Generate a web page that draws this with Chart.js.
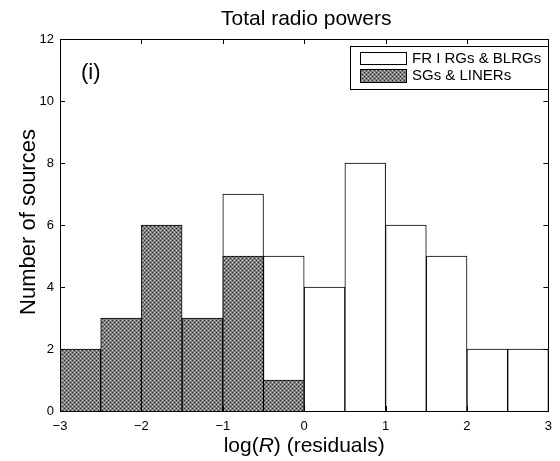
<!DOCTYPE html>
<html>
<head>
<meta charset="utf-8">
<script src="https://cdn.jsdelivr.net/npm/chart.js@4/dist/chart.umd.min.js"></script>
<style>
  html, body { margin: 0; padding: 0; background: #fff; }
  #wrap { width: 560px; height: 461px; }
</style>
</head>
<body>
<div id="wrap"><canvas id="histo" width="560" height="461"></canvas></div>
<script>
// bin centres, width 0.5 from -3 to 3
var binCentres = [-2.75, -2.25, -1.75, -1.25, -0.75, -0.25, 0.25, 0.75, 1.25, 1.75, 2.25, 2.75];
var frCounts = [null, null, null, null, 7, 5, 4, 8, 6, 5, 2, 2];
var sgCounts = [2, 3, 6, 3, 5, 1, null, null, null, null, null, null];
var xTicks = [-3, -2, -1, 0, 1, 2, 3];
var yTicks = [0, 2, 4, 6, 8, 10, 12];

var fontName = "'Liberation Sans', Arial, sans-serif";

function hatch() {
  var c = document.createElement("canvas");
  c.width = 4;
  c.height = 4;
  var g = c.getContext("2d");
  g.fillStyle = "#808080";
  g.fillRect(0, 0, 4, 4);
  g.fillStyle = "#2a2a2a";
  g.fillRect(0, 0, 1, 1);
  g.fillRect(2, 2, 1, 1);
  g.fillStyle = "#cccccc";
  g.fillRect(2, 0, 1, 1);
  g.fillRect(0, 2, 1, 1);
  return document.getElementById("histo").getContext("2d").createPattern(c, "repeat");
}

function pts(vals) {
  var out = [];
  for (var i = 0; i < binCentres.length; i++) {
    out.push({ x: binCentres[i], y: vals[i] });
  }
  return out;
}

var darkFill = hatch();

// frame, inward ticks, title, axis labels, "(i)" and legend box
var decor = {
  id: "decor",
  afterDraw: function (chart) {
    var ctx = chart.ctx;
    var a = chart.chartArea;
    var xs = chart.scales.x, ys = chart.scales.y;
    ctx.save();
    ctx.strokeStyle = "#000";
    ctx.lineWidth = 1;
    ctx.strokeRect(Math.round(a.left) + 0.5, Math.round(a.top) + 0.5,
      Math.round(a.right - a.left), Math.round(a.bottom - a.top));
    ctx.beginPath();
    xTicks.forEach(function (v) {
      var px = Math.round(xs.getPixelForValue(v)) + 0.5;
      ctx.moveTo(px, a.bottom); ctx.lineTo(px, a.bottom - 5);
      ctx.moveTo(px, a.top); ctx.lineTo(px, a.top + 5);
    });
    yTicks.forEach(function (v) {
      var py = Math.round(ys.getPixelForValue(v)) + 0.5;
      ctx.moveTo(a.left, py); ctx.lineTo(a.left + 5, py);
      ctx.moveTo(a.right, py); ctx.lineTo(a.right - 5, py);
    });
    ctx.stroke();

    ctx.fillStyle = "#000";
    ctx.textAlign = "center";
    ctx.textBaseline = "alphabetic";
    ctx.font = "21px " + fontName;
    ctx.fillText("Total radio powers", (a.left + a.right) / 2 + 2, 25);

    // x label with italic R
    var parts = [["log(", "21px "], ["R", "italic 21px "], [") (residuals)", "21px "]];
    var total = 0;
    parts.forEach(function (p) { ctx.font = p[1] + fontName; total += ctx.measureText(p[0]).width; });
    var x0 = (a.left + a.right) / 2 - total / 2;
    ctx.textAlign = "left";
    parts.forEach(function (p) {
      ctx.font = p[1] + fontName;
      ctx.fillText(p[0], x0, 452);
      x0 += ctx.measureText(p[0]).width;
    });

    // y label
    ctx.save();
    ctx.translate(35, (a.top + a.bottom) / 2 - 3);
    ctx.rotate(-Math.PI / 2);
    ctx.textAlign = "center";
    ctx.font = "22px " + fontName;
    ctx.fillText("Number of sources", 0, 0);
    ctx.restore();

    ctx.textAlign = "left";
    ctx.font = "22px " + fontName;
    ctx.fillText("(i)", 81, 79);

    // legend
    ctx.fillStyle = "#fff";
    ctx.fillRect(350.5, 46.5, 198, 43);
    ctx.strokeRect(350.5, 46.5, 198, 43);
    ctx.fillRect(360.5, 52.5, 46, 12);
    ctx.strokeRect(360.5, 52.5, 46, 12);
    ctx.fillStyle = darkFill;
    ctx.fillRect(360.5, 69.5, 46, 13);
    ctx.strokeRect(360.5, 69.5, 46, 13);
    ctx.fillStyle = "#000";
    ctx.textBaseline = "middle";
    ctx.font = "15px " + fontName;
    ctx.fillText("FR I RGs & BLRGs", 412, 59);
    ctx.fillText("SGs & LINERs", 412, 76);
    ctx.restore();
  }
};

new Chart(document.getElementById("histo"), {
  type: "bar",
  data: {
    datasets: [
      {
        label: "SGs & LINERs",
        data: pts(sgCounts),
        backgroundColor: darkFill,
        borderColor: "#000",
        borderWidth: 1,
        grouped: false,
        barPercentage: 1,
        categoryPercentage: 1,
      },
      {
        label: "FR I RGs & BLRGs",
        data: pts(frCounts),
        backgroundColor: "#fff",
        borderColor: "#000",
        borderWidth: 1,
        grouped: false,
        barPercentage: 1,
        categoryPercentage: 1,
      },
    ],
  },
  options: {
    responsive: false,
    animation: false,
    layout: { padding: { left: 0, right: 5, top: 39, bottom: 0 } },
    plugins: { legend: { display: false }, tooltip: { enabled: false } },
    scales: {
      x: {
        type: "linear",
        min: -3,
        max: 3,
        offset: false,
        grid: { display: false, drawTicks: false },
        border: { display: false },
        afterBuildTicks: function (s) { s.ticks = xTicks.map(function (v) { return { value: v }; }); },
        afterFit: function (s) { s.height = 50; },
        ticks: {
          color: "#000",
          padding: 8,
          font: { size: 13, family: fontName },
          callback: function (v) { return String(v).replace("-", "\u2212"); },
        },
      },
      y: {
        min: 0,
        max: 12,
        grid: { display: false, drawTicks: false },
        border: { display: false },
        afterBuildTicks: function (s) { s.ticks = yTicks.map(function (v) { return { value: v }; }); },
        afterFit: function (s) { s.width = 60; },
        ticks: {
          color: "#000",
          padding: 6,
          font: { size: 13, family: fontName },
        },
      },
    },
  },
  plugins: [decor],
});
</script>
</body>
</html>
